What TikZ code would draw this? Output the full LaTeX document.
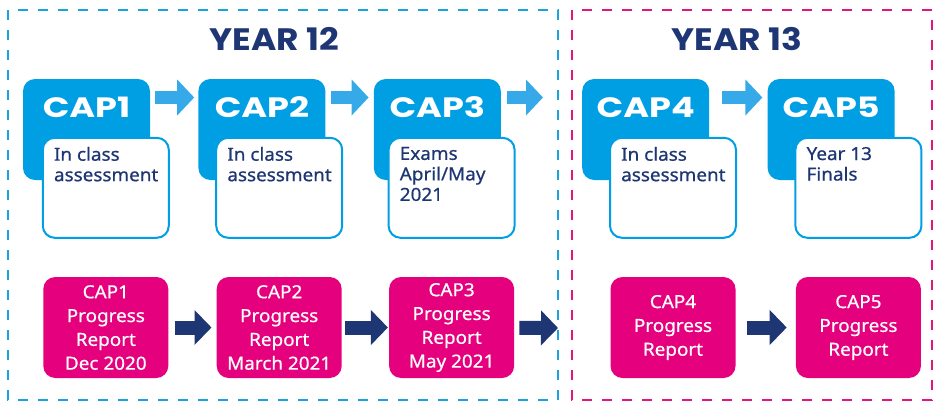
\documentclass[tikz,border=0pt]{standalone}
\usepackage{fontspec}
\setmainfont{Noto Sans}[FakeStretch=1.05, FakeBold=0.6]
\newfontfamily\headfont{Poppins}[FakeStretch=1.11]
\newfontfamily\capfont{Poppins}[FakeStretch=1.25]
\usetikzlibrary{positioning,arrows.meta}
\definecolor{capblue}{HTML}{009FE3}
\definecolor{arrowblue}{HTML}{36A9E9}
\definecolor{navy}{HTML}{1E3673}
\definecolor{reportpink}{HTML}{E5007D}
\definecolor{frameblue}{HTML}{1BA3E0}
\definecolor{framepink}{HTML}{E3157F}
\tikzstyle{yearframe} = [line width=2.6pt, dash pattern=on 10pt off 10pt]
\tikzstyle{yeartitle} = [font=\headfont\bfseries\fontsize{31}{33}\selectfont, text=navy, inner sep=0pt]
\tikzstyle{capbox} = [rectangle, fill=capblue, rounded corners=12pt, minimum width=127pt, minimum height=101pt, inner sep=0pt]
\tikzstyle{captitle} = [font=\capfont\bfseries\fontsize{28}{30}\selectfont, text=white, inner sep=0pt]
\tikzstyle{notebox} = [rectangle, draw=capblue, fill=white, line width=2pt, rounded corners=12pt, minimum width=126pt, minimum height=100pt]
\tikzstyle{notetext} = [font=\fontsize{18}{20.5}\selectfont, text=navy, align=left, inner sep=0pt]
\tikzstyle{reportbox} = [rectangle, fill=reportpink, rounded corners=12pt, minimum width=125pt, minimum height=101pt, text=white, align=center, font=\fontsize{18}{23.8}\selectfont]
\tikzstyle{stepline} = [arrowblue, line width=12.6pt, -{Triangle[width=35pt,length=17pt]}]
\tikzstyle{reportline} = [navy, line width=14pt, -{Triangle[width=34pt,length=17pt]}]

\begin{document}
\begin{tikzpicture}[x=1pt, y=-1pt]
            \useasboundingbox (0,0) rectangle (934,402);
            % year frames
            \draw [yearframe, frameblue] (8,10) rectangle (558,400);
            \draw [yearframe, framepink] (572,10) rectangle (932,400);
            \node (year12) [yeartitle] at (274,39) {YEAR 12};
            \node (year13) [yeartitle] at (737,39) {YEAR 13};
            % cap boxes
            \node (cap1) [capbox] at (86.5,129.5) {};
            \node (cap2) [capbox, right=48pt of cap1] {};
            \node (cap3) [capbox, right=48pt of cap2] {};
            \node (cap4) [capbox, right=81pt of cap3] {};
            \node (cap5) [capbox, right=58pt of cap4] {};
            \node (title1) [captitle, below=18pt of cap1.north] {CAP1};
            \node (title2) [captitle, below=18pt of cap2.north] {CAP2};
            \node (title3) [captitle, below=18pt of cap3.north] {CAP3};
            \node (title4) [captitle, below=18pt of cap4.north] {CAP4};
            \node (title5) [captitle, below=18pt of cap5.north] {CAP5};
            % notes
            \node (note1) [notebox, below right=58pt and 19pt of cap1.north west] {};
            \node (note2) [notebox, below right=58pt and 17pt of cap2.north west] {};
            \node (note3) [notebox, below right=58pt and 14pt of cap3.north west] {};
            \node (note4) [notebox, below right=58pt and 27pt of cap4.north west] {};
            \node (note5) [notebox, below right=58pt and 27pt of cap5.north west] {};
            \node (text1) [notetext, below right=10pt and 12pt of note1.north west] {In class\\assessment};
            \node (text2) [notetext, below right=10pt and 12pt of note2.north west] {In class\\assessment};
            \node (text3) [notetext, below right=10pt and 12pt of note3.north west] {Exams\\April/May\\2021};
            \node (text4) [notetext, below right=10pt and 12pt of note4.north west] {In class\\assessment};
            \node (text5) [notetext, below right=10pt and 12pt of note5.north west] {Year 13\\Finals};
            % progress reports
            \node (rep1) [reportbox, below=38pt of note1] {CAP1\\Progress\\Report\\Dec 2020};
            \node (rep2) [reportbox, below=38pt of note2] {CAP2\\Progress\\Report\\March 2021};
            \node (rep3) [reportbox, below=38pt of note3] {CAP3\\Progress\\Report\\May 2021};
            \node (rep4) [reportbox, below=38pt of note4] {CAP4\\Progress\\Report};
            \node (rep5) [reportbox, below=38pt of note5] {CAP5\\Progress\\Report};
            \coordinate (capout) at (543,97.5);
            \coordinate (repout) at (558,328);
            \draw [stepline, shorten <=5pt, shorten >=4pt] ([yshift=32pt]cap1.east) -- ([yshift=32pt]cap2.west);
            \draw [stepline, shorten <=5pt, shorten >=5pt] ([yshift=32pt]cap2.east) -- ([yshift=32pt]cap3.west);
            \draw [stepline, shorten <=6pt] ([yshift=32pt]cap3.east) -- (capout);
            \draw [stepline, shorten <=13pt, shorten >=5pt] ([yshift=32pt]cap4.east) -- ([yshift=32pt]cap5.west);
            \draw [reportline, shorten <=6pt, shorten >=5pt] (rep1) -- (rep2);
            \draw [reportline, shorten <=3pt, shorten >=1pt] (rep2) -- (rep3);
            \draw [reportline, shorten <=5pt] (rep3) -- (repout);
            \draw [reportline, shorten <=11pt, shorten >=9pt] (rep4) -- (rep5);
        \end{tikzpicture}
\end{document}
